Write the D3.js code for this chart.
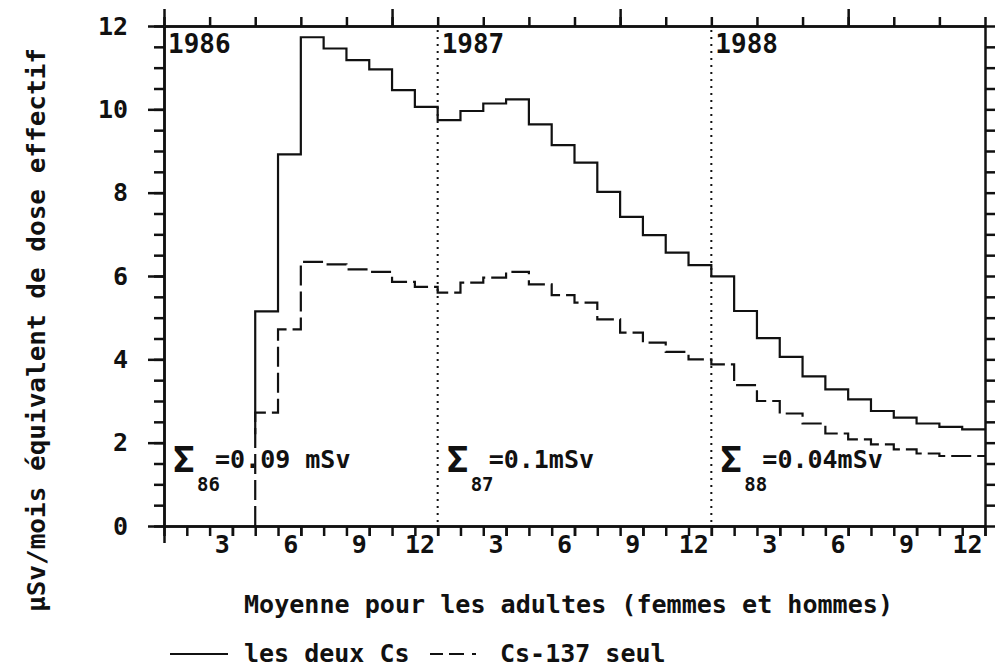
<!DOCTYPE html>
<html>
<head>
<meta charset="utf-8">
<script src="https://cdn.jsdelivr.net/npm/d3@7"></script>
<style>
  body { margin: 0; background: #fff; }
  text { font-family: "DejaVu Sans Mono", monospace; font-weight: bold; fill: #111; }
</style>
</head>
<body>
<div id="chart"></div>
<script>
// monthly values, Jan 1986 .. Dec 1988 (null = not measured)
var months = d3.range(1, 37);
var solidVals = [null, null, null, null, 5.15, 8.92, 11.73, 11.46, 11.18, 10.96, 10.46, 10.06,
    9.74, 9.96, 10.14, 10.24, 9.64, 9.14, 8.72, 8.02, 7.42, 6.98, 6.56, 6.26,
    5.99, 5.16, 4.51, 4.06, 3.59, 3.28, 3.04, 2.76, 2.60, 2.46, 2.38, 2.32];
var dashedVals = [null, null, null, null, 2.72, 4.72, 6.34, 6.28, 6.16, 6.10, 5.86, 5.74,
    5.60, 5.84, 5.96, 6.10, 5.80, 5.54, 5.36, 4.96, 4.64, 4.40, 4.18, 4.00,
    3.88, 3.38, 3.00, 2.70, 2.46, 2.22, 2.08, 1.96, 1.84, 1.74, 1.68, 1.68];
// level where each trace starts its first vertical
var solidStart = 2.2;
var dashedStart = 0;

var years = ["1986", "1987", "1988"];
var sumSubs = ["86", "87", "88"];
var sumTexts = ["=0.09 mSv", "=0.1mSv", "=0.04mSv"];
var yTicks = [0, 2, 4, 6, 8, 10, 12];
var xLabelMonths = d3.range(3, 37, 3);

function main() {
    var W = 995, H = 668;
    var svg = d3.select("#chart").append("svg")
        .attr("width", W).attr("height", H);

    var x = d3.scaleLinear().domain([0, 36]).range([164, 985]);
    var y = d3.scaleLinear().domain([0, 12]).range([526, 26]);

    function styleAxis(g) {
        g.select(".domain").attr("stroke", "#111").attr("stroke-width", 2.5);
        g.selectAll(".tick line").attr("stroke", "#111").attr("stroke-width", 2.5);
        g.selectAll("text").attr("font-family", "DejaVu Sans Mono")
            .attr("font-weight", "bold").attr("font-size", 25).attr("fill", "#111");
    }

    // left axis
    svg.append("g").attr("transform", "translate(" + x(0) + ",0)")
        .call(d3.axisLeft(y).tickValues(d3.range(0, 12.01, 0.5)).tickSize(10).tickFormat("").tickSizeOuter(0))
        .call(styleAxis);
    svg.append("g").attr("transform", "translate(" + x(0) + ",0)")
        .call(d3.axisLeft(y).tickValues(yTicks).tickSize(16).tickPadding(20).tickSizeOuter(0))
        .call(styleAxis);

    // right axis
    svg.append("g").attr("transform", "translate(" + x(36) + ",0)")
        .call(d3.axisRight(y).tickValues(d3.range(0, 12.01, 0.5)).tickSize(10).tickFormat("").tickSizeOuter(0))
        .call(styleAxis);

    // top axis
    svg.append("g").attr("transform", "translate(0," + y(12) + ")")
        .call(d3.axisTop(x).tickValues(d3.range(0, 37, 2)).tickSize(9).tickFormat("").tickSizeOuter(0))
        .call(styleAxis);
    svg.append("g").attr("transform", "translate(0," + y(12) + ")")
        .call(d3.axisTop(x).tickValues([0, 10, 20, 30]).tickSize(17).tickFormat("").tickSizeOuter(0))
        .call(styleAxis);

    // bottom axis
    svg.append("g").attr("transform", "translate(0," + y(0) + ")")
        .call(d3.axisBottom(x).tickValues(d3.range(0, 37, 1)).tickSize(10).tickFormat("").tickSizeOuter(0))
        .call(styleAxis);
    svg.append("g").attr("transform", "translate(0," + y(0) + ")")
        .call(d3.axisBottom(x).tickValues([0]).tickSize(17).tickFormat("").tickSizeOuter(0))
        .call(styleAxis);
    var bx = svg.append("g").attr("transform", "translate(0," + y(0) + ")")
        .call(d3.axisBottom(x).tickValues(xLabelMonths).tickSize(10)
            .tickFormat(function (d) { return ((d - 1) % 12) + 1; }).tickSizeOuter(0))
        .call(styleAxis);
    bx.select(".domain").remove();
    bx.selectAll("text").attr("text-anchor", "end").attr("x", -3).attr("y", 9);

    // year separators
    svg.selectAll(".sep").data([12, 24]).enter().append("line")
        .attr("x1", function (d) { return x(d); }).attr("x2", function (d) { return x(d); })
        .attr("y1", y(12) + 4).attr("y2", y(0) - 2)
        .attr("stroke", "#111").attr("stroke-width", 2).attr("stroke-dasharray", "2,5");

    // year labels
    svg.selectAll(".yr").data(years).enter().append("text")
        .attr("x", function (d, i) { return x(i * 12) + 4; })
        .attr("y", 53)
        .attr("font-size", 26)
        .text(function (d) { return d; });

    // step traces
    function stepPoints(vals, start) {
        var pts = [];
        var first = vals.findIndex(function (v) { return v != null; });
        pts.push([first, start]);
        vals.forEach(function (v, i) { if (v != null) pts.push([i, v]); });
        pts.push([vals.length, vals[vals.length - 1]]);
        return pts;
    }
    var line = d3.line()
        .x(function (d) { return x(d[0]); })
        .y(function (d) { return y(d[1]); })
        .curve(d3.curveStepAfter);

    svg.append("path").datum(stepPoints(dashedVals, dashedStart))
        .attr("d", line).attr("fill", "none").attr("stroke", "#111")
        .attr("stroke-width", 2.2).attr("stroke-dasharray", "20,6");
    svg.append("path").datum(stepPoints(solidVals, solidStart))
        .attr("d", line).attr("fill", "none").attr("stroke", "#111")
        .attr("stroke-width", 2.2);

    // sum annotations
    sumSubs.forEach(function (s, i) {
        var x0 = x(i * 12) + 9;
        svg.append("text").attr("x", x0).attr("y", y(1.3)).attr("font-size", 36).text("Σ");
        svg.append("text").attr("x", x0 + 24).attr("y", y(0.85)).attr("font-size", 19).text(s);
        svg.append("text").attr("x", x0 + 42).attr("y", y(1.4)).attr("font-size", 25).text(sumTexts[i]);
    });

    // axis titles
    svg.append("text")
        .attr("transform", "translate(45,330) rotate(-90)")
        .attr("text-anchor", "middle")
        .attr("font-size", 25)
        .attr("textLength", 564).attr("lengthAdjust", "spacingAndGlyphs")
        .text("µSv/mois équivalent de dose effectif");

    svg.append("text")
        .attr("x", 244).attr("y", 613)
        .attr("font-size", 25)
        .attr("textLength", 649).attr("lengthAdjust", "spacingAndGlyphs")
        .text("Moyenne pour les adultes (femmes et hommes)");

    // legend
    svg.append("line").attr("x1", 170).attr("x2", 228).attr("y1", 654).attr("y2", 654)
        .attr("stroke", "#111").attr("stroke-width", 2.2);
    svg.append("text").attr("x", 244).attr("y", 662).attr("font-size", 25).text("les deux Cs");
    svg.append("line").attr("x1", 430).attr("x2", 490).attr("y1", 654).attr("y2", 654)
        .attr("stroke", "#111").attr("stroke-width", 2.2).attr("stroke-dasharray", "13,6,15,8,4,30");
    svg.append("text").attr("x", 500).attr("y", 662).attr("font-size", 25).text("Cs-137 seul");
}
window.addEventListener('load', main);
</script>
</body>
</html>
